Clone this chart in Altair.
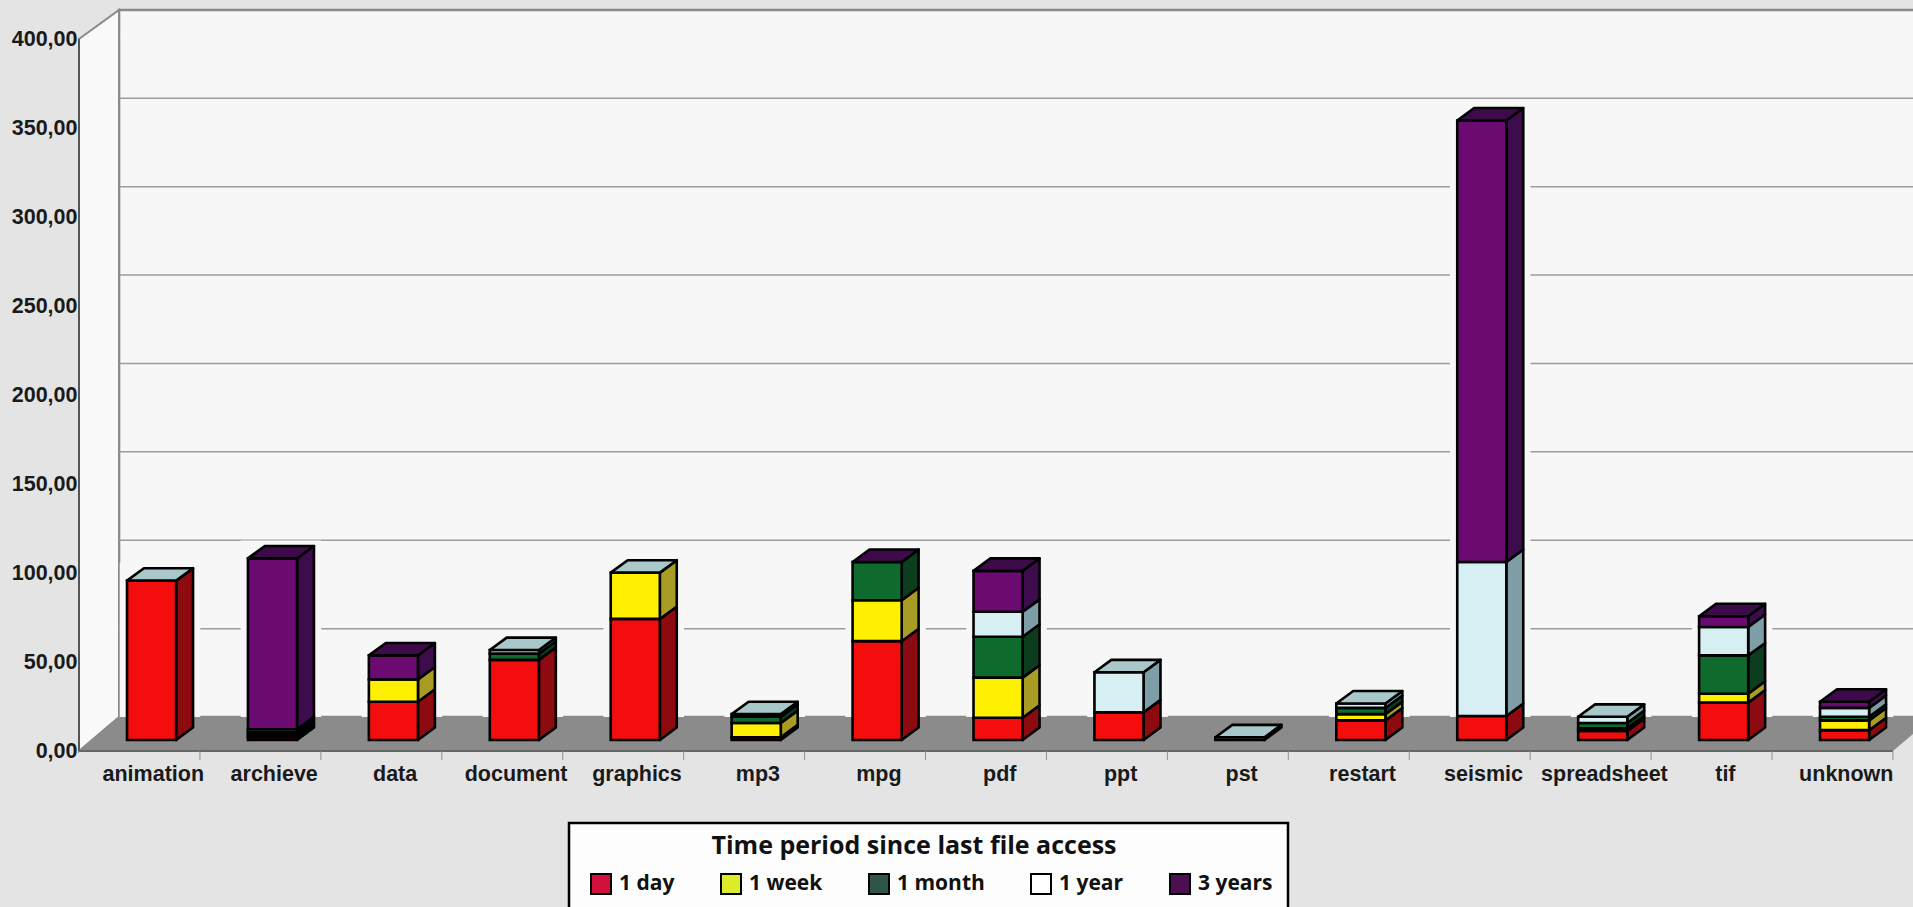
import altair as alt
import pandas as pd

categories = ["animation", "archieve", "data", "document", "graphics", "mp3", "mpg", "pdf",
              "ppt", "pst", "restart", "seismic", "spreadsheet", "tif", "unknown"]
periods = ["1 day", "1 week", "1 month", "1 year", "3 years"]

# Stack per file type, bottom to top. None means the segment is not drawn at all;
# a zero still contributes an outline and the cap colour.
day = [89.5, 1.5, 21.5, 45, 68, 1.5, 55.5, 12.5, 15.5, None, 11, 13.5, 5, 21, 5.5]
week = [None, 1.5, 12.5, None, 26, 8, 23, 22.5, None, None, 3.5, None, 1.5, 5, 5.5]
month = [None, 1.5, None, 3.5, None, 3.5, 21.5, 23, None, None, 3.5, None, 3, 21.5, 2]
year = [0, 1.5, None, 2, 0, 1.5, None, 14, 22.5, 1.5, 2.5, 86.5, 3.5, 16, 5]
three_years = [None, 96, 13.5, None, None, None, 0, 23, None, None, None, 248, None, 6, 3.5]
series = [day, week, month, year, three_years]

front_fill = ["#f40d0d", "#fff000", "#0f6a2e", "#d6eff3", "#6b0a70"]
side_fill = ["#8c0a10", "#a89c25", "#0b3d1e", "#7d9ea6", "#3c0c4c"]
cap_fill = ["#b01015", "#c8bd30", "#0d4a25", "#a9c8ca", "#3d0a4a"]
legend_fill = ["#d2103c", "#dcec2a", "#2f5548", "#ffffff", "#4c0f52"]

y_ticks = [0, 50, 100, 150, 200, 250, 300, 350, 400]
wall_ticks = [50, 100, 150, 200, 250, 300, 350]

# Scales: one x unit is one category slot, y is in chart units on the front plane.
W, H = 1913, 907
SLOT = 120.93
UNIT = 1.78
X0, Y0 = 79, 751
x_scale = alt.Scale(domain=[-X0 / SLOT, (W - X0) / SLOT], range=[0, W], nice=False, zero=False)
y_scale = alt.Scale(domain=[(Y0 - H) / UNIT, Y0 / UNIT], range=[H, 0], nice=False, zero=False)

BAR_LEFT, BAR_RIGHT = 0.397, 0.803
DEPTH_X, DEPTH_Y = 0.14, 7.0
BAR_BASE = 6.2
FLOOR_X, FLOOR_Y = 0.331, 19.1
WALL_RATIO = 0.993
N = len(categories)

fronts, sides, caps, halos = [], [], [], []
for i, name in enumerate(categories):
    base = BAR_BASE
    last = None
    for s, values in enumerate(series):
        v = values[i]
        if v is None:
            continue
        lo, hi = base, base + v
        left, right = i + BAR_LEFT, i + BAR_RIGHT
        fronts.append(dict(x=left, x2=right, y=lo, y2=hi, fill=front_fill[s]))
        face = f"{name}-{s}"
        sides.append(dict(face=face, x=right, y=lo, y2=hi, fill=side_fill[s]))
        sides.append(dict(face=face, x=right + DEPTH_X, y=lo + DEPTH_Y, y2=hi + DEPTH_Y, fill=side_fill[s]))
        base = hi
        last = s
    cap_colour = cap_fill[last]
    left, right = i + BAR_LEFT, i + BAR_RIGHT
    caps.append(dict(face=name, x=left, x2=right, y=base, fill=cap_colour))
    caps.append(dict(face=name, x=left + DEPTH_X, x2=right + DEPTH_X, y=base + DEPTH_Y, fill=cap_colour))
    if base + DEPTH_Y + 3 > FLOOR_Y:
        halos.append(dict(x=left - 0.06, x2=right + DEPTH_X + 0.06, y=FLOOR_Y, y2=base + DEPTH_Y + 3))

# Every positional layer carries the same axis definition so Vega-Lite merges them into one.
LABEL_SHIFT = 0.61
names_js = "[" + ",".join(f"'{c}'" for c in categories) + "]"
x_axis = alt.Axis(
    orient="bottom", offset=Y0 - H, values=[i + LABEL_SHIFT for i in range(N)],
    labelExpr=f"{names_js}[round(datum.value - {LABEL_SHIFT})]", title=None,
    domain=False, ticks=False, grid=False, labelOverlap=False, labelPadding=12, zindex=1,
    labelFont="Liberation Sans", labelFontWeight="bold", labelFontSize=21.5, labelColor="#1a1a1a",
)
y_axis = alt.Axis(
    orient="left", offset=-X0 + 1, values=y_ticks, title=None,
    labelExpr="replace(format(datum.value, '.2f'), '.', ',')",
    domain=False, ticks=False, grid=False, labelOverlap=False, labelPadding=1, zindex=1,
    labelFont="Liberation Sans", labelFontWeight="bold", labelFontSize=21.5, labelColor="#1a1a1a",
)
X = alt.X("x:Q", scale=x_scale, axis=x_axis)
Y = alt.Y("y:Q", scale=y_scale, axis=y_axis)
FILL = alt.Fill("fill:N", scale=None, legend=None)

wall_colour = "#f7f7f7"
frame_colour = "#8a8a8a"
OUTLINE = 2.6

back_wall = alt.Chart(pd.DataFrame([dict(x=FLOOR_X, x2=N + 1, y=FLOOR_Y, y2=FLOOR_Y + 400 * WALL_RATIO)])).mark_rect(
    fill=wall_colour, stroke=frame_colour, strokeWidth=2.5
).encode(X, x2="x2:Q", y=Y, y2="y2:Q")

left_wall = alt.Chart(pd.DataFrame([
    dict(x=0, y=0, y2=400),
    dict(x=FLOOR_X, y=FLOOR_Y, y2=FLOOR_Y + 400 * WALL_RATIO),
])).mark_area(fill="#f9f9f9", stroke=frame_colour, strokeWidth=2).encode(X, Y, y2="y2:Q")

grid = alt.Chart(pd.DataFrame(dict(v=wall_ticks))).transform_calculate(
    y=f"{FLOOR_Y} + datum.v * {WALL_RATIO}", x=f"{FLOOR_X}", x2=f"{N + 1}"
).mark_rule(color="#9c9c9c", strokeWidth=1.5).encode(X, x2="x2:Q", y=Y)

floor = alt.Chart(pd.DataFrame([
    dict(x=0, x2=N, y=0),
    dict(x=FLOOR_X, x2=N + FLOOR_X, y=FLOOR_Y),
])).mark_area(orient="horizontal", fill="#8b8b8b", clip=True).encode(X, x2="x2:Q", y=Y)

front_axis = alt.Chart(pd.DataFrame(dict(x=[0], y=[0], y2=[400]))).mark_rule(
    color="#555555", strokeWidth=2
).encode(X, Y, y2="y2:Q")

base_line = alt.Chart(pd.DataFrame(dict(x=[0], x2=[N], y=[0]))).mark_rule(
    color="#666666", strokeWidth=2
).encode(X, x2="x2:Q", y=Y)

dividers = alt.Chart(pd.DataFrame(dict(x=list(range(1, N + 1)), y=[0] * N, y2=[-5] * N))).mark_rule(
    color="#8f8f8f", strokeWidth=1
).encode(X, Y, y2="y2:Q")

halo = alt.Chart(pd.DataFrame(halos)).mark_rect(fill=wall_colour).encode(X, x2="x2:Q", y=Y, y2="y2:Q")

side_faces = alt.Chart(pd.DataFrame(sides)).mark_area(stroke="black", strokeWidth=OUTLINE, strokeJoin="round").encode(
    X, Y, y2="y2:Q", detail="face:N", fill=FILL
)
front_faces = alt.Chart(pd.DataFrame(fronts)).mark_rect(stroke="black", strokeWidth=OUTLINE).encode(
    X, x2="x2:Q", y=Y, y2="y2:Q", fill=FILL
)
cap_faces = alt.Chart(pd.DataFrame(caps)).mark_area(
    orient="horizontal", stroke="black", strokeWidth=OUTLINE, strokeJoin="round"
).encode(X, x2="x2:Q", y=Y, detail="face:N", fill=FILL)

legend_box = alt.Chart(pd.DataFrame(dict(k=[0]))).mark_rect(fill="#fdfdfd", stroke="black", strokeWidth=2.5).encode(
    x=alt.value(569), x2=alt.value(1288), y=alt.value(823), y2=alt.value(912)
)

legend_title = alt.Chart(pd.DataFrame(dict(t=["Time period since last file access"]))).mark_text(
    font="Open Sans", fontWeight="bold", fontSize=25, color="#111111", align="center", baseline="middle"
).encode(x=alt.value(914), y=alt.value(846), text="t:N")

legend_layer = alt.Chart(pd.DataFrame(dict(period=periods))).mark_square(size=0, filled=True).encode(
    color=alt.Color("period:N", scale=alt.Scale(domain=periods, range=legend_fill), legend=alt.Legend(
        orient="none", legendX=590, legendY=873, direction="horizontal", columns=5, gridAlign="none",
        title=None, labelFont="Open Sans", labelFontWeight="bold", labelFontSize=21, labelColor="#111111",
        labelOffset=7, columnPadding=42, symbolType="square", symbolSize=400,
        symbolStrokeColor="black", symbolStrokeWidth=2, symbolOpacity=1, zindex=1,
    ))
)

chart = alt.layer(
    back_wall, left_wall, grid, floor, front_axis, base_line, dividers, halo,
    side_faces, front_faces, cap_faces, legend_box, legend_title, legend_layer,
).resolve_scale(fill="independent").properties(
    width=W, height=H, padding=0, background="#e4e4e4",
    autosize=alt.AutoSizeParams(type="none"),
).configure_view(stroke=None)

chart.save("out.html", embed_options={"renderer": "svg", "actions": False})
